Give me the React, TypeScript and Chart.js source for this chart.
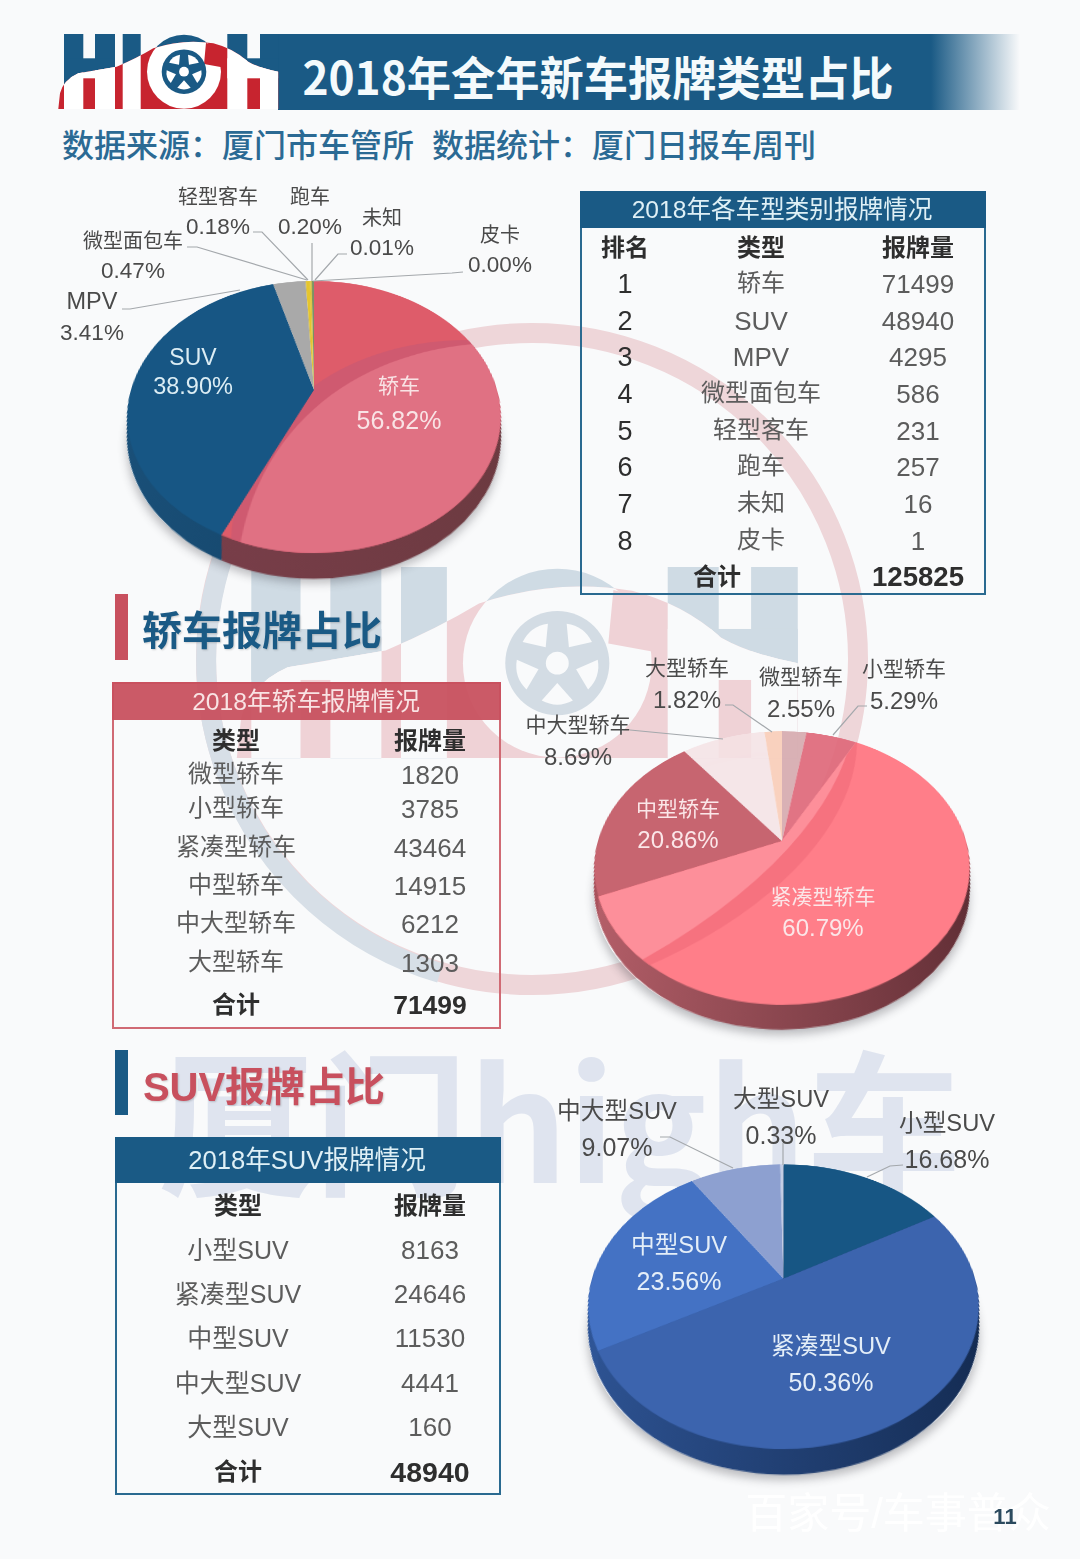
import React, { useEffect, useRef } from "react";
import { Chart, registerables } from "chart.js";

Chart.register(...registerables);

// ---------- data ----------
const overallLabels = ["轿车", "SUV", "MPV", "微型面包车", "轻型客车", "跑车", "未知", "皮卡"];
const overallValues = [71499, 48940, 4295, 586, 231, 257, 16, 1];
const overallPct = ["56.82%", "38.90%", "3.41%", "0.47%", "0.18%", "0.20%", "0.01%", "0.00%"];
const overallTotal = 125825;

const sedanLabels = ["微型轿车", "小型轿车", "紧凑型轿车", "中型轿车", "中大型轿车", "大型轿车"];
const sedanValues = [1820, 3785, 43464, 14915, 6212, 1303];
const sedanPct = ["2.55%", "5.29%", "60.79%", "20.86%", "8.69%", "1.82%"];
const sedanTotal = 71499;

const suvLabels = ["小型SUV", "紧凑型SUV", "中型SUV", "中大型SUV", "大型SUV"];
const suvValues = [8163, 24646, 11530, 4441, 160];
const suvPct = ["16.68%", "50.36%", "23.56%", "9.07%", "0.33%"];
const suvTotal = 48940;

// ---------- style ----------
const CJK = "'Noto Sans CJK SC','Noto Sans',sans-serif";
const FONT = "'Liberation Sans','Noto Sans CJK SC',sans-serif";
const NAVY = "#1a5a85";
const RED = "#c8505e";
const BG = "#f9fafb";
const INK = "#5c5c5c";
const DARK = "#2e2e2e";
const LABEL = "#4a4a4a";
const TILT = 44.4;

type Layer = { pts: number[][]; color: string };
type PieProps = {
  cx: number;
  cy: number;
  R: number;
  depth: number;
  values: number[];
  labels: string[];
  colors: string[];
  walls: (string[] | null)[];
  gloss?: { slice: number; layers: Layer[] };
};

function T(p: {
  x: number;
  y: number;
  s: number;
  c?: string;
  w?: number;
  f?: string;
  sx?: number;
  shadow?: string;
  children: React.ReactNode;
}) {
  const off = p.f === CJK ? -0.06 : 0.02;
  return (
    <div
      style={{
        position: "absolute",
        left: p.x,
        top: p.y + p.s * off,
        transform: `translate(-50%,-50%) scaleX(${p.sx ?? 1})`,
        whiteSpace: "pre",
        lineHeight: 1,
        fontFamily: p.f ?? FONT,
        fontSize: p.s,
        fontWeight: p.w ?? 400,
        color: p.c ?? INK,
        textShadow: p.shadow,
      }}
    >
      {p.children}
    </div>
  );
}

function circle3(a: number[], b: number[], c: number[]) {
  const d = 2 * (a[0] * (b[1] - c[1]) + b[0] * (c[1] - a[1]) + c[0] * (a[1] - b[1]));
  const sa = a[0] * a[0] + a[1] * a[1];
  const sb = b[0] * b[0] + b[1] * b[1];
  const sc = c[0] * c[0] + c[1] * c[1];
  const x = (sa * (b[1] - c[1]) + sb * (c[1] - a[1]) + sc * (a[1] - b[1])) / d;
  const y = (sa * (c[0] - b[0]) + sb * (a[0] - c[0]) + sc * (b[0] - a[0])) / d;
  return { x, y, r: Math.hypot(a[0] - x, a[1] - y) };
}

function Pie3D(p: PieProps) {
  const ref = useRef<HTMLCanvasElement>(null);
  const pad = 48;
  const size = 2 * (p.R + pad);
  const persp = p.R * 3.535;
  const rad = (TILT * Math.PI) / 180;
  const cosT = Math.cos(rad);
  const k = Math.sin(rad) / persp;

  useEffect(() => {
    if (!ref.current) return;
    const toPlane = (X: number, Y: number) => {
      const y = Y / (cosT + Y * k);
      return [X * (1 - y * k), y];
    };
    const wallPlugin = {
      id: "wall",
      beforeDatasetsDraw(chart: any) {
        const ctx = chart.ctx;
        const arcs = chart.getDatasetMeta(0).data;
        for (let i = p.depth; i >= 1; i--) {
          arcs.forEach((a: any, n: number) => {
            const w = p.walls[n];
            if (!w) return;
            const r = a.outerRadius * (1 - k * i);
            const g = ctx.createLinearGradient(a.x - p.R, 0, a.x + p.R, 0);
            g.addColorStop(0, w[0]);
            g.addColorStop(1, w[1]);
            ctx.fillStyle = g;
            ctx.beginPath();
            ctx.moveTo(a.x, a.y + i);
            ctx.arc(a.x, a.y + i, r, a.startAngle, a.endAngle);
            ctx.closePath();
            ctx.fill();
          });
        }
      },
    };
    const glossPlugin = {
      id: "gloss",
      afterDatasetsDraw(chart: any) {
        if (!p.gloss) return;
        const ctx = chart.ctx;
        const a = chart.getDatasetMeta(0).data[p.gloss.slice];
        ctx.save();
        ctx.beginPath();
        ctx.moveTo(a.x, a.y);
        ctx.arc(a.x, a.y, a.outerRadius, a.startAngle, a.endAngle);
        ctx.closePath();
        ctx.clip();
        p.gloss.layers.forEach((l) => {
          const [q1, q2, q3] = l.pts.map((q) => toPlane(q[0], q[1]));
          const c = circle3(q1, q2, q3);
          ctx.fillStyle = l.color;
          ctx.beginPath();
          ctx.arc(a.x + c.x, a.y + c.y, c.r, 0, Math.PI * 2);
          ctx.fill();
        });
        ctx.restore();
      },
    };
    const chart = new Chart(ref.current, {
      type: "pie",
      data: {
        labels: p.labels,
        datasets: [{ data: p.values, backgroundColor: p.colors, borderWidth: 0 }],
      },
      options: {
        responsive: false,
        maintainAspectRatio: false,
        animation: false,
        events: [],
        layout: { padding: pad },
        plugins: { legend: { display: false }, tooltip: { enabled: false } },
      },
      plugins: [wallPlugin, glossPlugin],
    } as any);
    return () => chart.destroy();
  }, []);

  // soft shadow ellipse under the pie
  const a = p.R * 1.0202;
  const b = p.R * 0.744;
  const cyE = p.cy + p.R * 0.148 + 24;
  return (
    <>
      <div
        style={{
          position: "absolute",
          left: p.cx - a,
          top: cyE - b,
          width: 2 * a,
          height: 2 * b,
          borderRadius: "50%",
          boxShadow: "0 6px 10px rgba(40,40,50,.3)",
        }}
      />
      <canvas
        ref={ref}
        width={size}
        height={size}
        style={{
          position: "absolute",
          left: p.cx - size / 2,
          top: p.cy - size / 2,
          width: size,
          height: size,
          transformOrigin: "50% 50%",
          transform: `perspective(${persp}px) rotateX(${TILT}deg)`,
        }}
      />
    </>
  );
}

function Logo(p: {
  x: number;
  y: number;
  scale: number;
  blue: string;
  red: string;
  white: string;
  wheel: number;
  hub?: string;
}) {
  const id = `car${p.scale}`.replace(".", "_");
  const letters = (
    <>
      <rect x={6} y={0} width={19.3} height={75} />
      <rect x={37} y={0} width={20} height={75} />
      <rect x={6} y={24.3} width={51} height={20} />
      <rect x={64.7} y={0} width={18} height={75} />
      <rect x={169.3} y={0} width={20} height={75} />
      <rect x={202} y={0} width={18.3} height={75} />
      <rect x={169.3} y={24.3} width={51} height={20} />
      <circle cx={126} cy={37.7} r={37} />
    </>
  );
  const spokes = [36, 108, 180, 252, 324];
  const w = p.wheel;
  return (
    <svg
      style={{ position: "absolute", left: p.x, top: p.y, overflow: "visible" }}
      width={221 * p.scale}
      height={76 * p.scale}
      viewBox="0 0 221 76"
    >
      <defs>
        <clipPath id={id}>
          <path d="M0.3,75 L2,59.3 Q5.3,46 20.3,39.3 L58.7,32.7 Q78.7,24.3 95.3,14.3 Q125.3,4.3 155.3,9.3 Q175.3,14.3 190.3,27.7 Q202,34.3 220.3,37.7 L220.3,75 Z" />
        </clipPath>
      </defs>
      <g fill={p.blue}>{letters}</g>
      <g clipPath={`url(#${id})`}>
        <rect x={0} y={0} width={221} height={75} fill={p.red} />
        <g fill={p.white}>{letters}</g>
        <path d="M148,9 L168,14 L168,34 L146,30 Z" fill={p.red} />
      </g>
      <circle cx={126} cy={37.7} r={w} fill={p.hub ?? p.blue} />
      <circle cx={126} cy={37.7} r={w * 0.22} fill={p.white} />
      {spokes.map((d) => (
        <path
          key={d}
          d={`M126,${37.7 - w * 0.38} L${126 + w * 0.3},${37.7 - w * 0.72} Q126,${37.7 - w * 0.88} ${126 - w * 0.3},${37.7 - w * 0.72} Z`}
          fill={p.white}
          transform={`rotate(${d} 126 37.7)`}
        />
      ))}
    </svg>
  );
}

function Box(p: { x: number; y: number; w: number; h: number; head: number; color: string; border: string }) {
  return (
    <>
      <div
        style={{
          position: "absolute",
          left: p.x,
          top: p.y,
          width: p.w,
          height: p.h,
          boxSizing: "border-box",
          border: `2px solid ${p.border}`,
        }}
      />
      <div style={{ position: "absolute", left: p.x, top: p.y, width: p.w, height: p.head, background: p.color }} />
    </>
  );
}

const leaders: number[][][] = [
  [[253, 232], [262, 232], [308, 280]],
  [[187, 247], [197, 247], [307, 280]],
  [[312, 243], [312, 281]],
  [[347, 254], [338, 254], [315, 280]],
  [[463, 272], [452, 273], [313, 281]],
  [[122, 309], [130, 309], [240, 290]],
  [[725, 705], [733, 705], [772, 732]],
  [[867, 706], [858, 706], [833, 735]],
  [[630, 730], [723, 739]],
  [[660, 1137], [670, 1137], [733, 1168]],
  [[783, 1143], [783, 1165]],
  [[903, 1165], [890, 1166], [867, 1177]],
];

const t1Rows = [283, 320, 356, 393, 430, 466, 503, 540];
const t2Rows = [774, 808, 847, 885, 923, 962];
const t3Rows = [1249, 1293, 1337, 1382, 1426];
const gloss1 = {
  slice: 0,
  layers: [
    { pts: [[154, -50], [40, -27], [-80, 123]], color: "#cf5a70" },
    { pts: [[150, -45], [20, 3], [-73, 150]], color: "#e07183" },
  ],
};
const gloss2 = {
  slice: 2,
  layers: [
    { pts: [[75, -98], [5, 36], [-132, 124]], color: "#f6727f" },
    { pts: [[67, -94], [-5, 19], [-135, 116]], color: "#fd8f9a" },
  ],
};

export default function App() {
  return (
    <div
      style={{
        position: "absolute",
        left: 0,
        top: 0,
        width: 1080,
        height: 1559,
        overflow: "hidden",
        background: BG,
        fontFamily: FONT,
      }}
    >
      {/* watermark */}
      <svg style={{ position: "absolute", left: 0, top: 0 }} width={1080} height={1559}>
        <circle cx={532} cy={659} r={326} fill="none" stroke="#eed6d9" strokeWidth={20} />
        <path d="M 262 478 A 326 326 0 0 0 440 973" fill="none" stroke="#d7dfe7" strokeWidth={20} />
      </svg>
      <Logo x={236} y={567} scale={2.55} blue="#cfdbe4" red="#efd2d6" white={BG} wheel={20.4} hub="#d3dce4" />
      <T x={560} y={1124} s={155} w={700} c="#dfe4ef" f={CJK}>
        厦门high车
      </T>

      {/* header */}
      <div
        style={{
          position: "absolute",
          left: 278,
          top: 34,
          width: 742,
          height: 76,
          background: `linear-gradient(90deg, ${NAVY} 0%, ${NAVY} 88%, rgba(26,90,133,0) 100%)`,
        }}
      />
      <Logo x={58} y={34} scale={1} blue={NAVY} red="#c7242f" white="#ffffff" wheel={22.3} />
      <T x={598} y={78} s={46} sx={0.962} w={700} c="#f4fafc" f={CJK}>
        2018年全年新车报牌类型占比
      </T>
      <T x={238} y={145} s={32} w={500} c="#2b6a94" f={CJK}>
        数据来源：厦门市车管所
      </T>
      <T x={624} y={145} s={32} w={500} c="#2b6a94" f={CJK}>
        数据统计：厦门日报车周刊
      </T>

      {/* pies */}
      <Pie3D
        cx={313.5}
        cy={390}
        R={183}
        depth={28}
        values={overallValues}
        labels={overallLabels}
        colors={["#de5c6a", "#175684", "#a9a9a9", "#e5c52e", "#d8c03a", "#6f8a5a", "#4f7a5f", "#3c6a5a"]}
        walls={[["#7d3f4c", "#6b3a40"], ["#1a5079", "#103d5e"], null, null, null, null, null, null]}
        gloss={gloss1}
      />
      <Pie3D
        cx={781.5}
        cy={841}
        R={184}
        depth={27}
        values={sedanValues}
        labels={sedanLabels}
        colors={[
          "rgba(214,170,175,.92)",
          "rgba(222,104,122,.92)",
          "#ff7e89",
          "#c76570",
          "rgba(244,226,228,.85)",
          "rgba(248,205,184,.92)",
        ]}
        walls={[null, null, ["#b8616b", "#5d2c33"], ["#a9525c", "#a9525c"], null, null]}
        gloss={gloss2}
      />
      <Pie3D
        cx={783.5}
        cy={1279}
        R={191.7}
        depth={28}
        values={suvValues}
        labels={suvLabels}
        colors={["#175684", "#3c64ae", "#4472c4", "#8da0d0", "#c4cde4"]}
        walls={[["#14395f", "#14395f"], ["#2f5596", "#132a50"], ["#2f5596", "#2f5596"], null, null]}
      />

      {/* leader lines */}
      <svg style={{ position: "absolute", left: 0, top: 0 }} width={1080} height={1559}>
        {leaders.map((l, i) => (
          <polyline
            key={i}
            points={l.map((q) => q.join(",")).join(" ")}
            fill="none"
            stroke="#a4a8ac"
            strokeWidth={1.2}
          />
        ))}
      </svg>

      {/* pie 1 labels */}
      <T x={399} y={385} s={21} c="#f9e3e5">{overallLabels[0]}</T>
      <T x={399} y={419} s={25} c="#f9e3e5">{overallPct[0]}</T>
      <T x={193} y={357} s={23} c="#dcedf4">{overallLabels[1]}</T>
      <T x={193} y={387} s={23.5} c="#dcedf4">{overallPct[1]}</T>
      <T x={92} y={302} s={23.5} c={LABEL}>{overallLabels[2]}</T>
      <T x={92} y={333} s={22.5} c={LABEL}>{overallPct[2]}</T>
      <T x={133} y={241} s={20} c={LABEL}>{overallLabels[3]}</T>
      <T x={133} y={271} s={22.5} c={LABEL}>{overallPct[3]}</T>
      <T x={218} y={197} s={20} c={LABEL}>{overallLabels[4]}</T>
      <T x={218} y={227} s={22.5} c={LABEL}>{overallPct[4]}</T>
      <T x={310} y={197} s={20} c={LABEL}>{overallLabels[5]}</T>
      <T x={310} y={227} s={22.5} c={LABEL}>{overallPct[5]}</T>
      <T x={382} y={218} s={20} c={LABEL}>{overallLabels[6]}</T>
      <T x={382} y={248} s={22.5} c={LABEL}>{overallPct[6]}</T>
      <T x={500} y={235} s={20} c={LABEL}>{overallLabels[7]}</T>
      <T x={500} y={265} s={22.5} c={LABEL}>{overallPct[7]}</T>

      {/* pie 2 labels */}
      <T x={801} y={676} s={21} c={LABEL}>{sedanLabels[0]}</T>
      <T x={801} y={709} s={24} c={LABEL}>{sedanPct[0]}</T>
      <T x={904} y={668} s={21} c={LABEL}>{sedanLabels[1]}</T>
      <T x={904} y={701} s={24} c={LABEL}>{sedanPct[1]}</T>
      <T x={823} y={896} s={21} c="#fbe6e8">{sedanLabels[2]}</T>
      <T x={823} y={928} s={24} c="#fbe6e8">{sedanPct[2]}</T>
      <T x={678} y={808} s={21} c="#fbe6e8">{sedanLabels[3]}</T>
      <T x={678} y={840} s={24} c="#fbe6e8">{sedanPct[3]}</T>
      <T x={578} y={724} s={21} c={LABEL}>{sedanLabels[4]}</T>
      <T x={578} y={757} s={24} c={LABEL}>{sedanPct[4]}</T>
      <T x={687} y={667} s={21} c={LABEL}>{sedanLabels[5]}</T>
      <T x={687} y={700} s={24} c={LABEL}>{sedanPct[5]}</T>

      {/* pie 3 labels */}
      <T x={947} y={1124} s={23.7} c={LABEL}>{suvLabels[0]}</T>
      <T x={947} y={1158} s={25} c={LABEL}>{suvPct[0]}</T>
      <T x={831} y={1347} s={23.7} c="#e4eef8">{suvLabels[1]}</T>
      <T x={831} y={1381} s={25} c="#e4eef8">{suvPct[1]}</T>
      <T x={679} y={1246} s={23.7} c="#e4eef8">{suvLabels[2]}</T>
      <T x={679} y={1280} s={25} c="#e4eef8">{suvPct[2]}</T>
      <T x={617} y={1112} s={23.7} c={LABEL}>{suvLabels[3]}</T>
      <T x={617} y={1146} s={25} c={LABEL}>{suvPct[3]}</T>
      <T x={781} y={1100} s={23.7} c={LABEL}>{suvLabels[4]}</T>
      <T x={781} y={1134} s={25} c={LABEL}>{suvPct[4]}</T>

      {/* table 1 */}
      <Box x={580} y={191} w={406} h={404} head={37} color={NAVY} border="#2a6a90" />
      <T x={782} y={210} s={24.6} c="#dff0f6">2018年各车型类别报牌情况</T>
      <T x={625} y={247} s={24} w={700} c={DARK} f={CJK}>排名</T>
      <T x={761} y={247} s={24} w={700} c={DARK} f={CJK}>类型</T>
      <T x={918} y={247} s={24} w={700} c={DARK} f={CJK}>报牌量</T>
      {overallLabels.map((l, i) => (
        <React.Fragment key={l}>
          <T x={625} y={t1Rows[i]} s={27} c={DARK}>{String(i + 1)}</T>
          <T x={761} y={t1Rows[i]} s={/[A-Z]/.test(l) ? 26 : 24}>{l}</T>
          <T x={918} y={t1Rows[i]} s={26}>{String(overallValues[i])}</T>
        </React.Fragment>
      ))}
      <T x={717} y={576} s={24} w={700} c={DARK} f={CJK}>合计</T>
      <T x={918} y={576} s={27.6} w={700} c={DARK}>{String(overallTotal)}</T>

      {/* section 2 */}
      <div style={{ position: "absolute", left: 115, top: 594, width: 13, height: 66, background: RED }} />
      <T x={262} y={630} s={40} w={700} c={NAVY} f={CJK} shadow="1px 1px 2px rgba(0,0,0,.18)">轿车报牌占比</T>
      <Box x={112} y={682} w={389} h={347} head={38} color="rgba(200,80,94,.94)" border="#d06a74" />
      <T x={306} y={702} s={24.7} c="#f9e3e4">2018年轿车报牌情况</T>
      <T x={236} y={740} s={24} w={700} c={DARK} f={CJK}>类型</T>
      <T x={430} y={740} s={24} w={700} c={DARK} f={CJK}>报牌量</T>
      {sedanLabels.map((l, i) => (
        <React.Fragment key={l}>
          <T x={236} y={t2Rows[i]} s={24}>{l}</T>
          <T x={430} y={t2Rows[i]} s={26}>{String(sedanValues[i])}</T>
        </React.Fragment>
      ))}
      <T x={236} y={1004} s={24} w={700} c={DARK} f={CJK}>合计</T>
      <T x={430} y={1004} s={26.5} w={700} c={DARK}>{String(sedanTotal)}</T>

      {/* section 3 */}
      <div style={{ position: "absolute", left: 115, top: 1050, width: 13, height: 65, background: NAVY }} />
      <T x={264} y={1086} s={40} w={700} c={RED} shadow="1px 1px 2px rgba(0,0,0,.18)">SUV报牌占比</T>
      <Box x={115} y={1137} w={386} h={358} head={46} color={NAVY} border="#2a6a90" />
      <T x={307} y={1160} s={25.6} c="#dff0f6">2018年SUV报牌情况</T>
      <T x={238} y={1205} s={24} w={700} c={DARK} f={CJK}>类型</T>
      <T x={430} y={1205} s={24} w={700} c={DARK} f={CJK}>报牌量</T>
      {suvLabels.map((l, i) => (
        <React.Fragment key={l}>
          <T x={238} y={t3Rows[i]} s={25}>{l}</T>
          <T x={430} y={t3Rows[i]} s={26}>{String(suvValues[i])}</T>
        </React.Fragment>
      ))}
      <T x={238} y={1471} s={24} w={700} c={DARK} f={CJK}>合计</T>
      <T x={430} y={1471} s={28.5} w={700} c={DARK}>{String(suvTotal)}</T>

      {/* footer */}
      <T x={898} y={1513} s={42} c="#ffffff">百家号/车事普众</T>
      <T x={1005} y={1517} s={22} w={700} c="#2b4a5e">11</T>
    </div>
  );
}
